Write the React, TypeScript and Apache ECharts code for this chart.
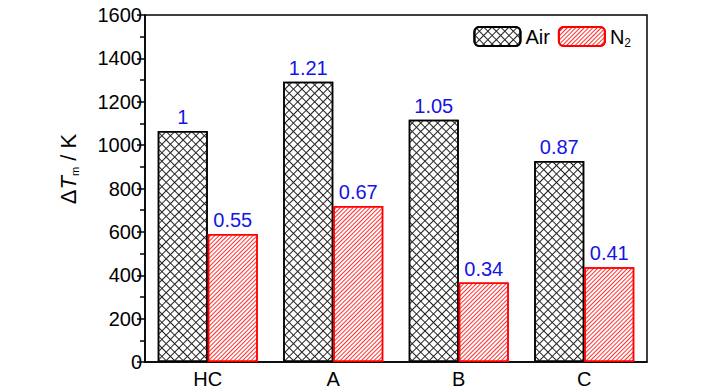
import React, { useEffect, useRef } from "react";
import * as echarts from "echarts";

const categories = ["HC", "A", "B", "C"];
const airValues = [1065, 1292, 1117, 927];
const n2Values = [590, 719, 366, 437];
const airLabels = ["1", "1.21", "1.05", "0.87"];
const n2Labels = ["0.55", "0.67", "0.34", "0.41"];
const yTicks = { min: 0, max: 1600, interval: 200 };

const FONT = "'Liberation Sans', Arial, sans-serif";

const crossDecal = {
  symbol: "rect",
  symbolSize: 1,
  color: "#222222",
  backgroundColor: "#ffffff",
  dashArrayX: [[6, 0], [1, 5], [1, 5], [1, 5], [1, 5], [1, 5]],
  dashArrayY: [1, 0],
  rotation: Math.PI / 4,
};

const hatchDecal = {
  symbol: "rect",
  symbolSize: 1,
  color: "#ff3030",
  backgroundColor: "#ffffff",
  dashArrayX: [1, 0],
  dashArrayY: [1, 2],
  rotation: -Math.PI / 4,
};

export default function App() {
  const ref = useRef<HTMLDivElement>(null);
  useEffect(() => {
    if (!ref.current) return;
    const chart = echarts.init(ref.current, null, { renderer: "svg" });
    const labelStyle = {
      show: true,
      position: "top" as const,
      color: "#1414e6",
      fontSize: 20,
      fontFamily: FONT,
      distance: 4,
    };
    chart.setOption({
      animation: false,
      backgroundColor: "#ffffff",
      aria: { enabled: true, decal: { show: true } },
      grid: {
        left: 145,
        right: 81,
        top: 15,
        bottom: 28,
        show: true,
        borderColor: "#000",
        borderWidth: 1.5,
        backgroundColor: "transparent",
      },
      legend: {
        right: 92,
        top: 21,
        itemWidth: 46,
        itemHeight: 19,
        itemGap: 8,
        textStyle: {
          fontFamily: FONT,
          fontSize: 20,
          color: "#000",
          rich: {
            n: { fontFamily: FONT, fontSize: 20, color: "#000" },
            s: { fontFamily: FONT, fontSize: 12, color: "#000", padding: [12, 0, 0, 0] },
          },
        },
        formatter: (name: string) => (name === "N2" ? "{n|N}{s|2}" : name),
        data: ["Air", "N2"],
      },
      xAxis: {
        type: "category",
        data: categories,
        axisLine: { show: true, lineStyle: { color: "#000", width: 1.5 } },
        axisTick: { show: false },
        axisLabel: { fontFamily: FONT, fontSize: 20, color: "#000", margin: 7 },
      },
      yAxis: {
        type: "value",
        min: yTicks.min,
        max: yTicks.max,
        interval: yTicks.interval,
        splitLine: { show: false },
        axisLine: { show: true, lineStyle: { color: "#000", width: 1.5 } },
        axisTick: { show: true, inside: false, length: 8, lineStyle: { color: "#000", width: 1.5 } },
        minorTick: { show: true, splitNumber: 2, length: 5, lineStyle: { color: "#000", width: 1.5 } },
        axisLabel: {
          fontFamily: FONT,
          fontSize: 20,
          color: "#000",
          margin: 3,
          formatter: (v: number) => String(v),
        },
      },
      graphic: [
        {
          type: "text",
          x: 68,
          y: 169,
          rotation: Math.PI / 2,
          style: {
            text: "{d|Δ}{t|T}{s|m}{k| / K}",
            align: "center",
            verticalAlign: "middle",
            fill: "#000",
            rich: {
              d: { fontFamily: FONT, fontSize: 22, fill: "#000" },
              t: { fontFamily: FONT, fontSize: 22, fontStyle: "italic", fill: "#000" },
              s: { fontFamily: FONT, fontSize: 11, fill: "#000", padding: [14, 0, 0, 0] },
              k: { fontFamily: FONT, fontSize: 22, fill: "#000" },
            },
          },
        },
      ],
      series: [
        {
          name: "Air",
          type: "bar",
          data: airValues,
          barWidth: 50,
          barGap: "0%",
          itemStyle: { color: "#ffffff", borderColor: "#000", borderWidth: 1.5, decal: crossDecal },
          label: { ...labelStyle, formatter: (p: any) => airLabels[p.dataIndex] },
        },
        {
          name: "N2",
          type: "bar",
          data: n2Values,
          barWidth: 50,
          barGap: "0%",
          itemStyle: { color: "#ffffff", borderColor: "#ff0000", borderWidth: 1.5, decal: hatchDecal },
          label: { ...labelStyle, formatter: (p: any) => n2Labels[p.dataIndex] },
        },
      ],
    });
    return () => chart.dispose();
  }, []);
  return <div ref={ref} style={{ width: 728, height: 390, position: "absolute", left: 0, top: 0 }} />;
}
